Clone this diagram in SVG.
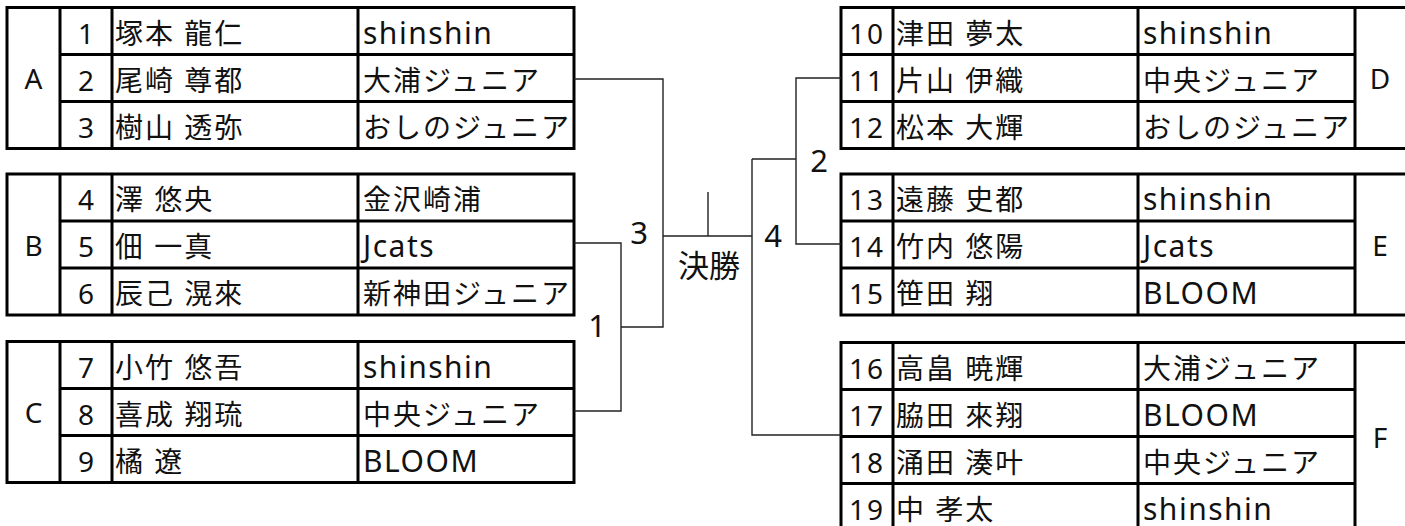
<svg xmlns="http://www.w3.org/2000/svg" width="1405" height="526" viewBox="0 0 1405 526">
<style>
.b{fill:none;stroke:#000;stroke-width:3}
.c{fill:none;stroke:#222;stroke-width:1.4}
text{font-family:"Noto Sans","Noto Sans CJK JP",sans-serif;font-size:28px;fill:#111;letter-spacing:2px}
.e{font-size:30px;letter-spacing:1.5px}
.m{text-anchor:middle}
.l{font-size:31px;letter-spacing:0}
</style>
<rect width="1405" height="526" fill="#fff"/>
<g id="table-A">
<rect class="b" x="7" y="7.5" width="567" height="141"/>
<path class="b" d="M60 7.5V148.5M112 7.5V148.5M358 7.5V148.5M60 54.5H574M60 101.5H574"/>
<text class="m" x="34.5" y="89">A</text>
<text class="m" x="87" y="43.5">1</text><text x="115" y="43.5">塚本 龍仁</text><text class="e" x="363" y="43.5">shinshin</text>
<text class="m" x="87" y="90.5">2</text><text x="115" y="90.5">尾崎 尊都</text><text x="363" y="90.5">大浦ジュニア</text>
<text class="m" x="87" y="137.5">3</text><text x="115" y="137.5">樹山 透弥</text><text x="363" y="137.5">おしのジュニア</text>
</g>
<g id="table-B">
<rect class="b" x="7" y="174" width="567" height="141"/>
<path class="b" d="M60 174V315M112 174V315M358 174V315M60 221H574M60 268H574"/>
<text class="m" x="34.5" y="256">B</text>
<text class="m" x="87" y="210">4</text><text x="115" y="210">澤 悠央</text><text x="363" y="210">金沢崎浦</text>
<text class="m" x="87" y="257">5</text><text x="115" y="257">佃 一真</text><text class="e" x="363" y="257">Jcats</text>
<text class="m" x="87" y="304">6</text><text x="115" y="304">辰己 滉來</text><text x="363" y="304">新神田ジュニア</text>
</g>
<g id="table-C">
<rect class="b" x="7" y="341.5" width="567" height="141"/>
<path class="b" d="M60 341.5V482.5M112 341.5V482.5M358 341.5V482.5M60 388.5H574M60 435.5H574"/>
<text class="m" x="34.5" y="423">C</text>
<text class="m" x="87" y="377.5">7</text><text x="115" y="377.5">小竹 悠吾</text><text class="e" x="363" y="377.5">shinshin</text>
<text class="m" x="87" y="424.5">8</text><text x="115" y="424.5">喜成 翔琉</text><text x="363" y="424.5">中央ジュニア</text>
<text class="m" x="87" y="471.5">9</text><text x="115" y="471.5">橘 遼</text><text class="e" x="363" y="471.5">BLOOM</text>
</g>
<g id="table-D">
<rect class="b" x="841" y="7.5" width="567" height="141"/>
<path class="b" d="M893 7.5V148.5M1138 7.5V148.5M1355 7.5V148.5M841 54.5H1355M841 101.5H1355"/>
<text class="m" x="1381" y="89">D</text>
<text class="m" x="867" y="43.5">10</text><text x="896" y="43.5">津田 夢太</text><text class="e" x="1143" y="43.5">shinshin</text>
<text class="m" x="867" y="90.5">11</text><text x="896" y="90.5">片山 伊織</text><text x="1143" y="90.5">中央ジュニア</text>
<text class="m" x="867" y="137.5">12</text><text x="896" y="137.5">松本 大輝</text><text x="1143" y="137.5">おしのジュニア</text>
</g>
<g id="table-E">
<rect class="b" x="841" y="174" width="567" height="141"/>
<path class="b" d="M893 174V315M1138 174V315M1355 174V315M841 221H1355M841 268H1355"/>
<text class="m" x="1381" y="256">E</text>
<text class="m" x="867" y="210">13</text><text x="896" y="210">遠藤 史都</text><text class="e" x="1143" y="210">shinshin</text>
<text class="m" x="867" y="257">14</text><text x="896" y="257">竹内 悠陽</text><text class="e" x="1143" y="257">Jcats</text>
<text class="m" x="867" y="304">15</text><text x="896" y="304">笹田 翔</text><text class="e" x="1143" y="304">BLOOM</text>
</g>
<g id="table-F">
<rect class="b" x="841" y="342.5" width="567" height="188"/>
<path class="b" d="M893 342.5V530.5M1138 342.5V530.5M1355 342.5V530.5M841 389.5H1355M841 436.5H1355M841 483.5H1355"/>
<text class="m" x="1381" y="448">F</text>
<text class="m" x="867" y="378.5">16</text><text x="896" y="378.5">高畠 暁輝</text><text x="1143" y="378.5">大浦ジュニア</text>
<text class="m" x="867" y="425.5">17</text><text x="896" y="425.5">脇田 來翔</text><text class="e" x="1143" y="425.5">BLOOM</text>
<text class="m" x="867" y="472.5">18</text><text x="896" y="472.5">涌田 湊叶</text><text x="1143" y="472.5">中央ジュニア</text>
<text class="m" x="867" y="519.5">19</text><text x="896" y="519.5">中 孝太</text><text class="e" x="1143" y="519.5">shinshin</text>
</g>
<g id="connectors">
<path class="c" d="M574 79H663V327H621"/>
<path class="c" d="M574 243H621V411H574"/>
<path class="c" d="M663 236H752M708 192V236"/>
<path class="c" d="M752 159H796M752 159V435H841"/>
<path class="c" d="M841 78H796V244H841"/>
</g>
<g id="labels">
<text class="m l" x="597" y="337">1</text>
<text class="m l" x="639" y="244">3</text>
<text class="m l" x="773" y="247">4</text>
<text class="m l" x="819" y="172">2</text>
<text class="m l" x="709" y="277">決勝</text>
</g>
</svg>
